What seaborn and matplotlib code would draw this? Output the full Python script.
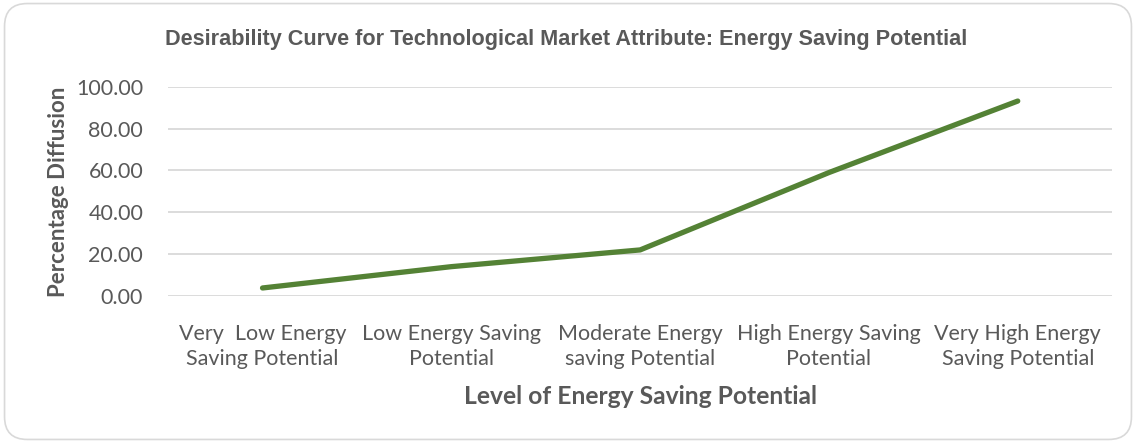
import matplotlib
matplotlib.use("Agg")
import matplotlib.pyplot as plt
import seaborn as sns
import pandas as pd
from matplotlib.patches import FancyBboxPatch

levels = [
    "Very  Low Energy\nSaving Potential",
    "Low Energy Saving\nPotential",
    "Moderate Energy\nsaving Potential",
    "High Energy Saving\nPotential",
    "Very High Energy\nSaving Potential",
]
diffusion = [3.8, 14.0, 22.0, 59.0, 93.2]
y_ticks = [0, 20, 40, 60, 80, 100]

sns.set_theme(style="white")
plt.rcParams["font.family"] = ["Lato", "DejaVu Sans"]

df = pd.DataFrame({"pos": range(len(levels)), "value": diffusion})

fig = plt.figure(figsize=(11.36, 4.43), dpi=100)
ax = fig.add_axes([0.148, 0.332, 0.831, 0.472])

border = FancyBboxPatch((0.004, 0.008), 0.992, 0.984, boxstyle="round,pad=0,rounding_size=0.02",
                        transform=fig.transFigure, facecolor="none", edgecolor="#d9d9d9",
                        linewidth=1.2, mutation_aspect=1136 / 443)
fig.patches.append(border)

sns.lineplot(data=df, x="pos", y="value", ax=ax, color="#548235", linewidth=3.8,
             solid_capstyle="round", solid_joinstyle="round")

ax.set_xlim(-0.5, len(levels) - 0.5)
ax.set_ylim(0, 100)
ax.set_yticks(y_ticks)
ax.set_yticklabels([f"{v:.2f}" for v in y_ticks], fontsize=15.5, color="#595959")
ax.set_xticks(range(len(levels)))
ax.set_xticklabels(levels, fontsize=15.5, color="#595959", linespacing=1.3)
ax.tick_params(axis="y", length=0, pad=18)
ax.tick_params(axis="x", length=0, pad=20)
ax.grid(axis="y", color="#d9d9d9", linewidth=1.3)
ax.set_axisbelow(True)
for s in ax.spines.values():
    s.set_visible(False)

ax.set_xlabel("Level of Energy Saving Potential", fontsize=17.7, fontweight="bold",
              color="#595959", labelpad=12)
ax.set_ylabel("Percentage Diffusion", fontsize=16, fontweight="bold", color="#595959", labelpad=5)

fig.text(0.145, 0.91, "Desirability Curve for Technological Market Attribute: Energy Saving Potential",
         fontsize=15.6, fontweight="bold", color="#595959", ha="left", va="center",
         family=["Liberation Sans", "DejaVu Sans"])

plt.savefig("out.png", dpi=100)
plt.close()
